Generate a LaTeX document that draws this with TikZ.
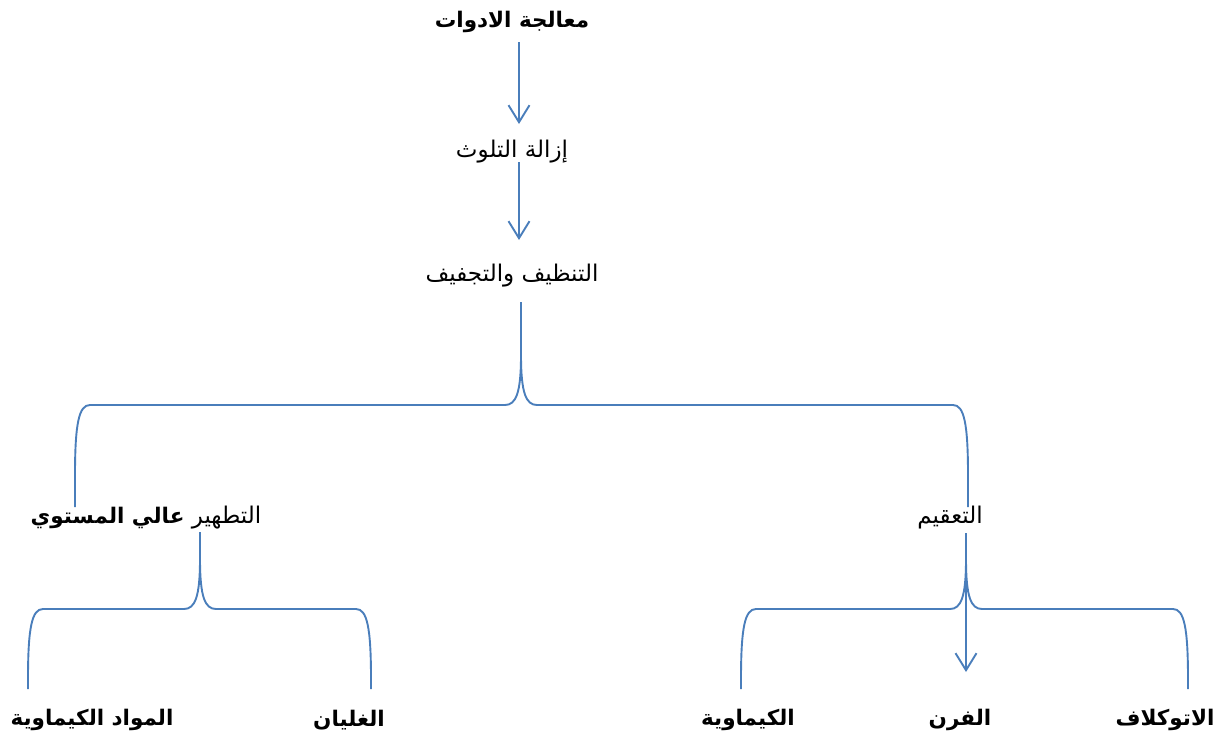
\documentclass[tikz,border=0pt]{standalone}
\usepackage{fontspec}
\setmainfont{DejaVu Sans}
\newfontfamily\arabicfont[Script=Arabic]{DejaVu Sans}
\TeXXeTstate=1
\usetikzlibrary{arrows.meta}
\definecolor{lineblue}{HTML}{4A7EBB}
\tikzset{
  conn/.style={draw=lineblue, line width=1.9pt},
  arr/.style={conn, -{Straight Barb[length=17pt,width=21pt]}},
  lbl/.style={font=\arabicfont\fontsize{23}{26}\selectfont, inner sep=0pt, text=black},
  blbl/.style={lbl, font=\arabicfont\bfseries\fontsize{21.5}{26}\selectfont},
}
% #1 centre x, #2 top y, #3 bar y, #4 left x, #5 right x, #6 bottom y
\newcommand\mybrace[6]{%
  \draw[conn] (#4,#6) -- (#4,#3+70) .. controls (#4,#3+18) and (#4+4,#3) .. (#4+15,#3)
    -- (#1-16,#3) .. controls (#1-5,#3) and (#1,#3-12) .. (#1,#3-50) -- (#1,#2);
  \draw[conn] (#1,#3-50) .. controls (#1,#3-12) and (#1+5,#3) .. (#1+16,#3)
    -- (#5-15,#3) .. controls (#5-4,#3) and (#5,#3+18) .. (#5,#3+70) -- (#5,#6);
}
\begin{document}
\begin{tikzpicture}[x=1pt,y=-1pt]
\useasboundingbox (0,0) rectangle (1232,742);
\node[blbl] (title) at (512,22) {\beginR معالجة الادوات\endR};
\node[lbl] (decon) at (512,152) {\beginR إزالة التلوث\endR};
\node[lbl] (clean) at (512,276) {\beginR التنظيف والتجفيف\endR};
\node[lbl] (hld) at (146,518) {\beginR التطهير {\bfseries\fontsize{21.5}{26}\selectfont عالي المستوي}\endR};
\node[lbl] (ster) at (950,518) {\beginR التعقيم\endR};
\node[blbl] (chem1) at (92,720) {\beginR المواد الكيماوية\endR};
\node[blbl] (boil) at (349,720) {\beginR الغليان\endR};
\node[blbl] (chem2) at (748,720) {\beginR الكيماوية\endR};
\node[blbl] (oven) at (960,720) {\beginR الفرن\endR};
\node[blbl] (auto) at (1165,720) {\beginR الاتوكلاف\endR};
\coordinate (a1s) at (519,42);
\coordinate (a1e) at (519,124);
\coordinate (a2s) at (519,162);
\coordinate (a2e) at (519,240);
\coordinate (a3s) at (966,540);
\coordinate (a3e) at (966,672);
\draw[arr] (a1s) -- (a1e);
\draw[arr] (a2s) -- (a2e);
\mybrace{521}{302}{405}{75}{968}{507}
\mybrace{200}{532}{609}{28}{371}{689}
\mybrace{966}{533}{609}{741}{1188}{689}
\draw[arr] (a3s) -- (a3e);
\end{tikzpicture}
\end{document}
